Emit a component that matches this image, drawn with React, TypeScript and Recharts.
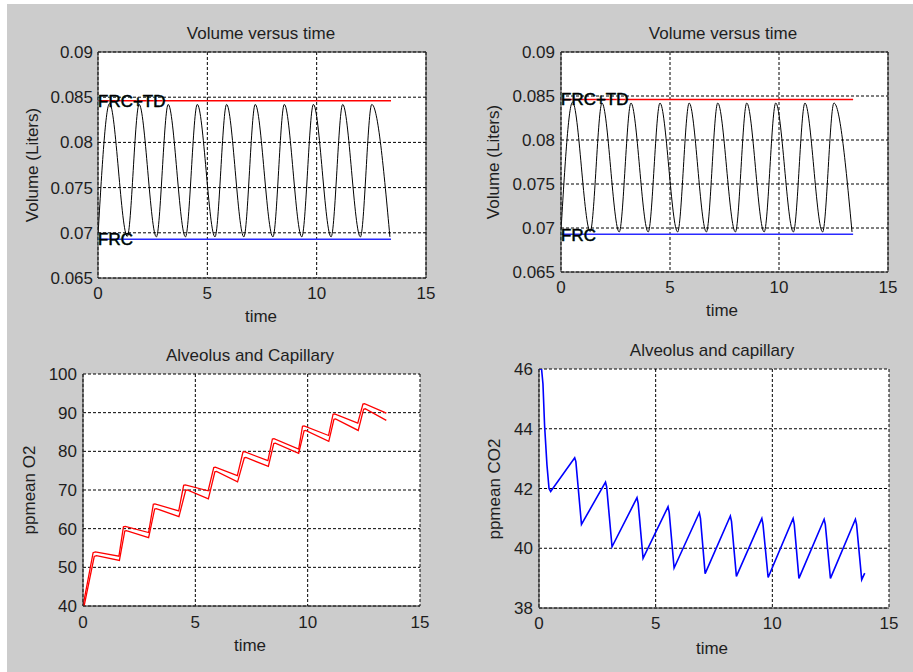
import React from 'react';
import { LineChart, Line, XAxis, YAxis, CartesianGrid, ReferenceLine } from 'recharts';

// ---------- data ----------
const xTicks = [0, 5, 10, 15];
const xTickLabels = ['0', '5', '10', '15'];

const volTicks = [0.065, 0.07, 0.075, 0.08, 0.085, 0.09];
const volTickLabels = ['0.065', '0.07', '0.075', '0.08', '0.085', '0.09'];

const o2Ticks = [40, 50, 60, 70, 80, 90, 100];
const o2TickLabels = ['40', '50', '60', '70', '80', '90', '100'];

const co2Ticks = [38, 40, 42, 44, 46];
const co2TickLabels = ['38', '40', '42', '44', '46'];

// Volume versus time (extrema)
const volTime = [0, 0.53, 1.34, 1.88, 2.67, 3.21, 4.0, 4.54, 5.35, 5.88, 6.67, 7.19, 8.0, 8.52, 9.32, 9.85, 10.66, 11.19, 12.0, 12.52, 13.35];
const volValue = [0.0697, 0.0843, 0.0696, 0.0842, 0.06955, 0.0842, 0.06955, 0.0842, 0.06955, 0.0842, 0.06955, 0.0842, 0.06955, 0.0842, 0.06955, 0.0842, 0.06955, 0.0842, 0.06955, 0.0842, 0.06955];

const frcTime = [0, 13.4];
const frcTdValue = [0.0846, 0.0846];
const frcValue = [0.0693, 0.0693];

// O2: alveolus (upper) and capillary (lower)
const o2AlvTime = [0, 0.45, 0.55, 1.6, 1.8, 1.88, 2.92, 3.13, 3.2, 4.26, 4.48, 4.55, 5.57, 5.82, 5.89, 6.87, 7.12, 7.19, 8.23, 8.43, 8.5, 9.6, 9.77, 9.84, 10.93, 11.13, 11.2, 12.23, 12.46, 12.53, 13.5];
const o2AlvValue = [40, 53.8, 54.0, 52.9, 60.5, 60.6, 59.0, 66.3, 66.4, 64.6, 71.2, 71.3, 69.8, 75.8, 75.9, 73.7, 79.8, 79.9, 77.6, 83.2, 83.3, 80.6, 86.5, 86.6, 84.1, 89.6, 89.7, 87.3, 92.2, 92.3, 89.9];

const o2CapTime = [0.05, 0.5, 0.6, 1.62, 1.86, 1.93, 2.92, 3.19, 3.26, 4.27, 4.57, 4.64, 5.58, 5.87, 5.94, 6.88, 7.18, 7.25, 8.25, 8.49, 8.56, 9.6, 9.84, 9.91, 10.94, 11.17, 11.24, 12.25, 12.49, 12.56, 13.5];
const o2CapValue = [40, 52.8, 53.0, 51.8, 59.4, 59.5, 57.7, 65.1, 65.2, 63.1, 69.9, 70.0, 67.7, 74.7, 74.8, 72.1, 78.3, 78.4, 76.1, 82.0, 82.1, 79.5, 85.3, 85.4, 82.6, 88.3, 88.4, 85.4, 90.9, 91.0, 88.0];

// CO2
const co2Time = [0, 0.11, 0.17, 0.24, 0.34, 0.43, 0.5, 1.53, 1.58, 1.82, 2.85, 2.9, 3.13, 4.2, 4.25, 4.46, 5.53, 5.58, 5.79, 6.87, 6.92, 7.12, 8.2, 8.25, 8.46, 9.55, 9.6, 9.82, 10.89, 10.94, 11.14, 12.22, 12.27, 12.49, 13.56, 13.61, 13.83, 13.96];
const co2Value = [46, 46, 45.5, 44.1, 42.8, 42.0, 41.9, 43.03, 42.9, 40.8, 42.21, 42.05, 40.05, 41.69, 41.5, 39.66, 41.39, 41.2, 39.34, 41.19, 41.0, 39.15, 41.08, 40.9, 39.06, 41.0, 40.8, 39.02, 41.0, 40.8, 38.99, 40.97, 40.8, 38.99, 40.97, 40.8, 38.95, 39.17];

// ---------- helpers ----------
type Pt = { t: number; v: number };
const zip = (ts: number[], vs: number[]): Pt[] => ts.map((t, i) => ({ t, v: vs[i] }));

const FONT = '"Liberation Sans", Arial, Helvetica, sans-serif';
const TEXT = '#1e1e1e';
const AXIS = '#262626';

const ML = 80;
const MT = 10;
const MR = 20;
const XH = 45;

interface Series {
  data: Pt[];
  color: string;
  width: number;
  type: 'monotone' | 'linear';
}

interface PanelProps {
  left: number;
  top: number;
  w: number;
  h: number;
  yDomain: [number, number];
  yTicks: number[];
  yTickLabels: string[];
  series: Series[];
  box: boolean;
  xTickMargin: number;
  yTickMargin: number;
}

function Panel(p: PanelProps) {
  const fmtY = (v: number) => {
    const i = p.yTicks.findIndex((t) => Math.abs(t - v) < 1e-9);
    return i >= 0 ? p.yTickLabels[i] : String(v);
  };
  const fmtX = (v: number) => {
    const i = xTicks.findIndex((t) => Math.abs(t - v) < 1e-9);
    return i >= 0 ? xTickLabels[i] : String(v);
  };
  const tickStyle = { fontSize: 17, fill: TEXT, fontFamily: FONT };
  return (
    <div style={{ position: 'absolute', left: p.left - ML, top: p.top - MT }}>
      <LineChart
        width={p.w + ML + MR}
        height={p.h + MT + XH}
        margin={{ top: MT, right: MR, left: 0, bottom: 0 }}
      >
        <CartesianGrid stroke="#000" strokeDasharray="3 2" fill="#ffffff" />
        <XAxis
          type="number"
          dataKey="t"
          domain={[0, 15]}
          ticks={xTicks}
          tickFormatter={fmtX}
          allowDataOverflow
          height={XH}
          tickSize={0}
          tickLine={false}
          tickMargin={p.xTickMargin}
          axisLine={{ stroke: AXIS, strokeWidth: 1 }}
          tick={tickStyle}
          interval={0}
        />
        <YAxis
          type="number"
          domain={p.yDomain}
          ticks={p.yTicks}
          tickFormatter={fmtY}
          allowDataOverflow
          width={ML}
          tickSize={0}
          tickLine={false}
          tickMargin={p.yTickMargin}
          axisLine={{ stroke: AXIS, strokeWidth: 1 }}
          tick={tickStyle}
          interval={0}
        />
        {p.series.map((s, i) => (
          <Line
            key={i}
            data={s.data}
            dataKey="v"
            type={s.type}
            stroke={s.color}
            strokeWidth={s.width}
            dot={false}
            activeDot={false}
            isAnimationActive={false}
          />
        ))}
        {p.box && <ReferenceLine y={p.yDomain[1]} stroke={AXIS} strokeWidth={1} />}
        {p.box && <ReferenceLine x={15} stroke={AXIS} strokeWidth={1} />}
      </LineChart>
    </div>
  );
}

function Txt(props: { x: number; y: number; text: string; rotate?: boolean; size?: number }) {
  return (
    <div
      style={{
        position: 'absolute',
        left: props.x,
        top: props.y,
        transform: `translate(-50%, -50%)${props.rotate ? ' rotate(-90deg)' : ''}`,
        fontFamily: FONT,
        fontSize: props.size ?? 17,
        lineHeight: 1,
        color: TEXT,
        whiteSpace: 'nowrap',
      }}
    >
      {props.text}
    </div>
  );
}

function Tag(props: { x: number; y: number; text: string }) {
  return (
    <div
      style={{
        position: 'absolute',
        left: props.x,
        top: props.y,
        transform: 'translate(0, -50%)',
        fontFamily: FONT,
        fontSize: 17,
        lineHeight: 1,
        color: '#000',
        whiteSpace: 'nowrap',
        WebkitTextStroke: '0.4px #000',
        textShadow: '-0.7px 0 0 rgba(0,200,220,0.6)',
      }}
    >
      {props.text}
    </div>
  );
}

export default function App() {
  const volSeries: Series[] = [
    { data: zip(volTime, volValue), color: '#000000', width: 1, type: 'monotone' },
    { data: zip(frcTime, frcTdValue), color: '#ff0000', width: 1.5, type: 'linear' },
    { data: zip(frcTime, frcValue), color: '#2a2aff', width: 1.5, type: 'linear' },
  ];
  const o2Series: Series[] = [
    { data: zip(o2AlvTime, o2AlvValue), color: '#ff0000', width: 1.3, type: 'linear' },
    { data: zip(o2CapTime, o2CapValue), color: '#ff0000', width: 1.3, type: 'linear' },
  ];
  const co2Series: Series[] = [
    { data: zip(co2Time, co2Value), color: '#0000ff', width: 1.6, type: 'linear' },
  ];

  return (
    <div style={{ position: 'absolute', left: 0, top: 0, width: 913, height: 672, background: '#ffffff', overflow: 'hidden' }}>
      <div style={{ position: 'absolute', left: 7, top: 4, width: 906, height: 668, background: '#cccccc' }} />

      <Panel left={98} top={52} w={328} h={226} yDomain={[0.065, 0.09]} yTicks={volTicks} yTickLabels={volTickLabels}
        series={volSeries} box xTickMargin={9} yTickMargin={5} />
      <Panel left={561} top={52} w={327} h={220} yDomain={[0.065, 0.09]} yTicks={volTicks} yTickLabels={volTickLabels}
        series={volSeries} box xTickMargin={9} yTickMargin={6} />
      <Panel left={83} top={374} w={337} h={232} yDomain={[40, 100]} yTicks={o2Ticks} yTickLabels={o2TickLabels}
        series={o2Series} box={false} xTickMargin={10} yTickMargin={6} />
      <Panel left={539} top={369} w={350} h={239} yDomain={[38, 46]} yTicks={co2Ticks} yTickLabels={co2TickLabels}
        series={co2Series} box={false} xTickMargin={9} yTickMargin={6} />

      <Txt x={261} y={33} text="Volume versus time" />
      <Txt x={261} y={316} text="time" />
      <Txt x={32} y={165} text="Volume (Liters)" rotate />
      <Tag x={98} y={101} text="FRC+TD" />
      <Tag x={98} y={239} text="FRC" />

      <Txt x={723} y={33} text="Volume versus time" />
      <Txt x={722} y={310} text="time" />
      <Txt x={493} y={162} text="Volume (Liters)" rotate />
      <Tag x={561} y={99} text="FRC+TD" />
      <Tag x={561} y={235} text="FRC" />

      <Txt x={250} y={355} text="Alveolus and Capillary" />
      <Txt x={250} y={645} text="time" />
      <Txt x={29} y={490} text="ppmean O2" rotate />

      <Txt x={712} y={350} text="Alveolus and capillary" />
      <Txt x={712} y={648} text="time" />
      <Txt x={494} y={489} text="ppmean CO2" rotate />
    </div>
  );
}
